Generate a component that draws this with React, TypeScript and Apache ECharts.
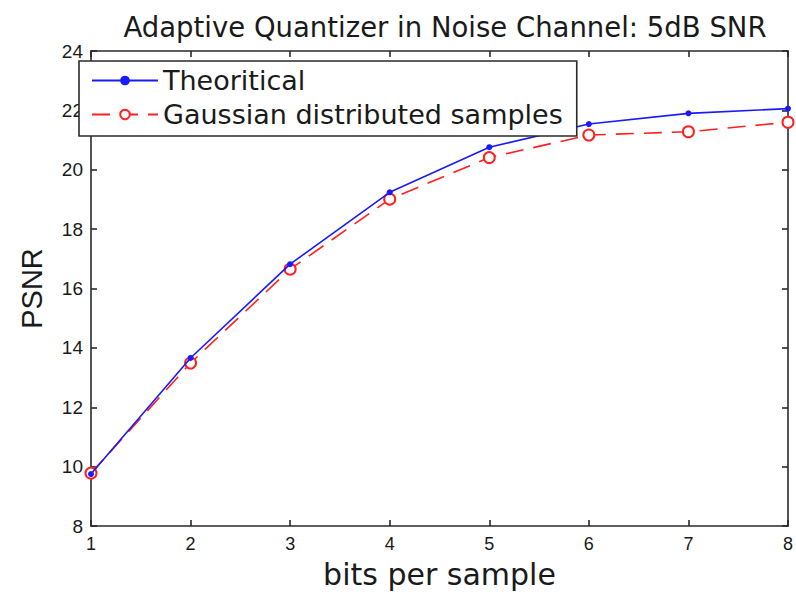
import React, { useEffect, useRef } from "react";
import * as echarts from "echarts";

const bitsPerSample = [1, 2, 3, 4, 5, 6, 7, 8];
const theoretical = [9.75, 13.66, 16.82, 19.24, 20.76, 21.54, 21.9, 22.06];
const gaussian = [9.78, 13.49, 16.65, 19.01, 20.41, 21.17, 21.28, 21.6];
const titleText = "Adaptive Quantizer in Noise Channel: 5dB SNR";
const seriesNames = ["Theoritical", "Gaussian distributed samples"];
const xName = "bits per sample";
const yName = "PSNR";

const ARIAL = "Liberation Sans, Arial, sans-serif";
const WIDE = "DejaVu Sans, Verdana, sans-serif";
const AXIS_COLOR = "#2a2a2a";
const TEXT_COLOR = "#1a1a1a";

export default function App() {
  const ref = useRef<HTMLDivElement>(null);
  useEffect(() => {
    if (!ref.current) return;
    const chart = echarts.init(ref.current, undefined, { renderer: "svg" });
    const axisLine = { show: true, lineStyle: { color: AXIS_COLOR, width: 1.6 } };
    const tick = { show: true, inside: true, length: 6, lineStyle: { color: AXIS_COLOR, width: 1.6 } };
    chart.setOption({
      animation: false,
      backgroundColor: "#ffffff",
      title: {
        text: titleText,
        left: 440,
        textAlign: "center",
        top: 8,
        textStyle: { fontFamily: WIDE, fontSize: 27.5, fontWeight: "normal", color: TEXT_COLOR },
      },
      grid: { left: 91, right: 4, top: 51, bottom: 62 },
      legend: {
        orient: "vertical",
        left: 79,
        top: 61,
        itemWidth: 66,
        itemHeight: 12,
        itemGap: 7,
        padding: [6, 14, 8, 12],
        borderColor: AXIS_COLOR,
        borderWidth: 1.6,
        backgroundColor: "#ffffff",
        textStyle: { fontFamily: WIDE, fontSize: 27, color: TEXT_COLOR },
        data: seriesNames,
      },
      xAxis: [
        {
          type: "value",
          min: 1,
          max: 8,
          interval: 1,
          name: xName,
          nameLocation: "middle",
          nameGap: 33,
          nameTextStyle: { fontFamily: WIDE, fontSize: 30, color: TEXT_COLOR },
          axisLine,
          axisTick: tick,
          splitLine: { show: false },
          axisLabel: { fontFamily: ARIAL, fontSize: 18, color: TEXT_COLOR, margin: 9 },
        },
        {
          type: "value",
          position: "top",
          min: 1,
          max: 8,
          interval: 1,
          axisLine,
          axisTick: tick,
          splitLine: { show: false },
          axisLabel: { show: false },
        },
      ],
      yAxis: [
        {
          type: "value",
          min: 8,
          max: 24,
          interval: 2,
          name: yName,
          nameLocation: "middle",
          nameGap: 45,
          nameTextStyle: { fontFamily: ARIAL, fontSize: 29, color: TEXT_COLOR },
          axisLine,
          axisTick: tick,
          splitLine: { show: false },
          axisLabel: { fontFamily: ARIAL, fontSize: 19, color: TEXT_COLOR, margin: 8 },
        },
        {
          type: "value",
          position: "right",
          min: 8,
          max: 24,
          interval: 2,
          axisLine,
          axisTick: tick,
          splitLine: { show: false },
          axisLabel: { show: false },
        },
      ],
      series: [
        {
          name: seriesNames[0],
          type: "line",
          data: bitsPerSample.map((x, i) => [x, theoretical[i]]),
          symbol: "circle",
          symbolSize: 6,
          lineStyle: { color: "#1a1aff", width: 1.6 },
          itemStyle: { color: "#1a1aff" },
          z: 3,
        },
        {
          name: seriesNames[1],
          type: "line",
          data: bitsPerSample.map((x, i) => [x, gaussian[i]]),
          symbol: "emptyCircle",
          symbolSize: 11,
          lineStyle: { color: "#ff2020", width: 1.6, type: [18, 10] },
          itemStyle: { color: "#ff2020", borderWidth: 1.6 },
          z: 2,
        },
      ],
    });
    return () => chart.dispose();
  }, []);
  return <div ref={ref} style={{ position: "fixed", left: 0, top: 0, width: 796, height: 594 }} />;
}
